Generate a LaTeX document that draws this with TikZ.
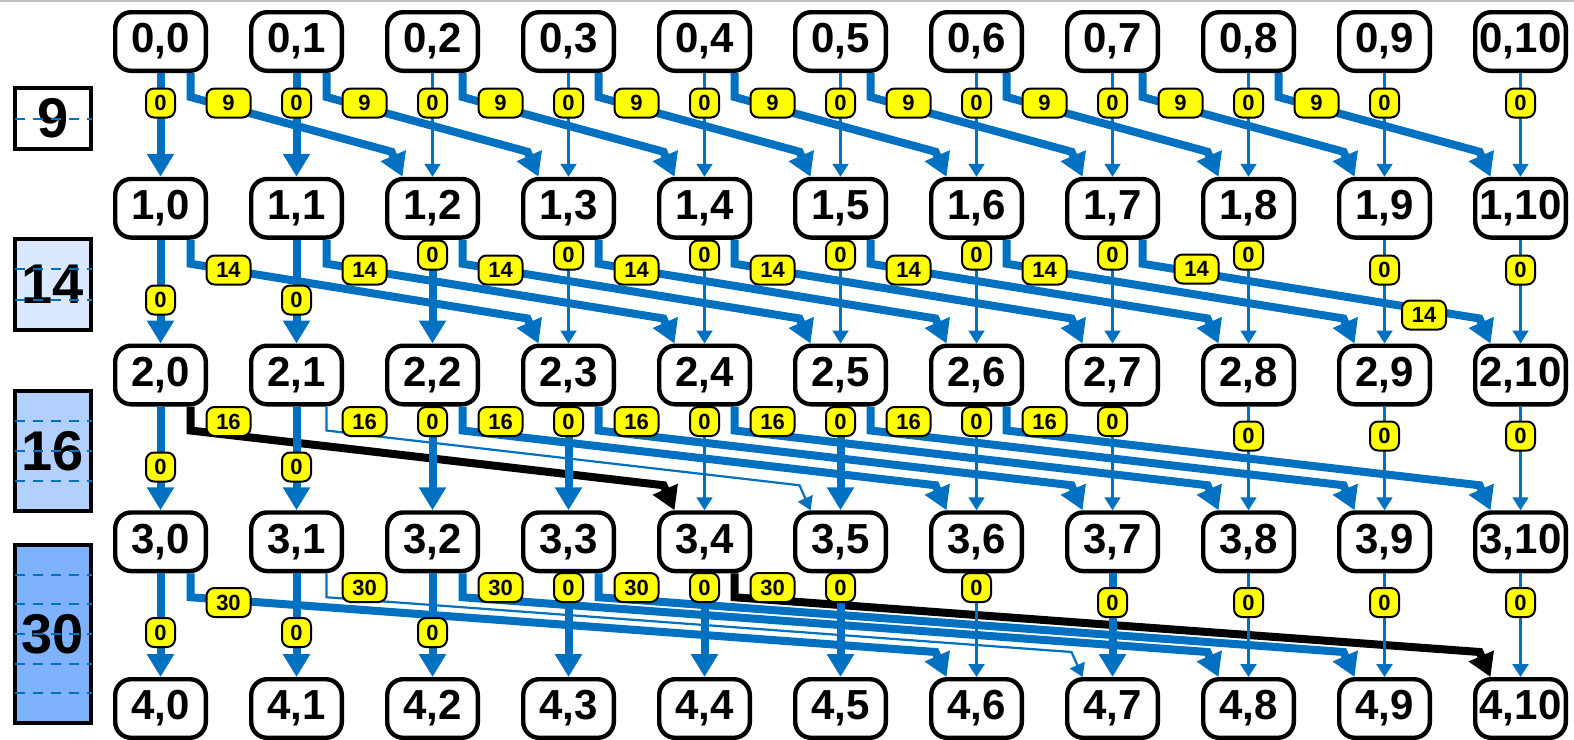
\documentclass[tikz,border=0pt]{standalone}
\usepackage{fontspec}
\setmainfont{Liberation Sans}
\usetikzlibrary{arrows.meta,calc}
\definecolor{eblue}{RGB}{0,112,192}
\definecolor{labfill}{RGB}{255,255,0}
\definecolor{wbA}{RGB}{218,233,255}
\definecolor{wbB}{RGB}{178,208,255}
\definecolor{wbC}{RGB}{126,178,255}
\newcommand\dg[3]{\draw[#1] ([xshift=15pt]#2.south) -- ++(0,24) -- ([xshift=-20.5pt,yshift=12.5pt]#3.north) -- ([xshift=-15pt]#3.north);}
\newcommand\vt[3]{\draw[#1] (#2.south) -- (#3.north);}
\begin{document}
\begin{tikzpicture}[x=0.5pt,y=-0.5pt,
  cell/.style={draw, line width=2.2pt, rounded corners=8pt, fill=white, minimum width=45.3pt, minimum height=29.3pt, inner sep=0pt, font=\fontsize{21}{21}\selectfont\bfseries},
  wbox/.style={draw, line width=2pt, minimum width=38pt, inner sep=0pt, font=\fontsize{28}{28}\selectfont\bfseries},
  wdash/.style={draw=eblue, line width=1pt, dash pattern=on 5pt off 4pt},
  thk/.style={draw=eblue, line width=4pt, -{Triangle[length=11.5pt,width=13pt]}},
  thn/.style={draw=eblue, line width=1.1pt, -{Triangle[length=6.5pt,width=8pt]}},
  blk/.style={draw=black, line width=4pt, -{Triangle[length=11.5pt,width=13pt]}},
  vlab/.style={draw, fill=labfill, line width=1pt, rounded corners=4pt, minimum width=22pt, minimum height=14.5pt, inner sep=0pt, font=\fontsize{11}{11}\selectfont\bfseries},
  zlab/.style={vlab, minimum width=14.5pt}
]
\useasboundingbox (0,0) rectangle (1574,739);
\fill[white] (0,0) rectangle (1574,739);
\draw[black!25, line width=1pt] (0,1) -- (1574,1);

% left weight boxes
\node[wbox, fill=white, minimum height=30.5pt] (w9) at (53,118.5) {9};
\node[wbox, fill=wbA, minimum height=45.5pt] (w14) at (53,284.5) {14};
\node[wbox, fill=wbB, minimum height=60pt] (w16) at (53,451) {16};
\node[wbox, fill=wbC, minimum height=89pt] (w30) at (53,634) {30};
\foreach \y in {118.5, 269.3, 299.7, 421, 451, 481, 574.7, 604.3, 634, 663.7, 693.3}
  \draw[wdash] (15,\y) -- (92,\y);

% grid nodes
\foreach \r in {0,...,4}
  \foreach \c in {0,...,10}
    \node[cell] (n\r-\c) at ({160.5+136*\c},{41.5+166.75*\r}) {\r,\c};

% diagonal edges
\foreach \j in {0,...,8}{\pgfmathtruncatemacro\k{\j+2}\dg{thk}{n0-\j}{n1-\k}}
\foreach \j in {0,...,7}{\pgfmathtruncatemacro\k{\j+3}\dg{thk}{n1-\j}{n2-\k}}
\dg{blk}{n2-0}{n3-4}
\dg{thn}{n2-1}{n3-5}
\foreach \j in {2,...,6}{\pgfmathtruncatemacro\k{\j+4}\dg{thk}{n2-\j}{n3-\k}}
\dg{thk}{n3-0}{n4-6}
\dg{thn}{n3-1}{n4-7}
\dg{thk}{n3-2}{n4-8}
\dg{thk}{n3-3}{n4-9}
\dg{blk}{n3-4}{n4-10}

% vertical edges
\foreach \c in {0,1}{\vt{thk}{n0-\c}{n1-\c}}
\foreach \c in {2,...,10}{\vt{thn}{n0-\c}{n1-\c}}
\foreach \c in {0,1,2}{\vt{thk}{n1-\c}{n2-\c}}
\foreach \c in {3,...,10}{\vt{thn}{n1-\c}{n2-\c}}
\foreach \c in {0,1,2,3,5}{\vt{thk}{n2-\c}{n3-\c}}
\foreach \c in {4,6,7,8,9,10}{\vt{thn}{n2-\c}{n3-\c}}
\foreach \c in {0,1,2,3,4,5,7}{\vt{thk}{n3-\c}{n4-\c}}
\foreach \c in {6,8,9,10}{\vt{thn}{n3-\c}{n4-\c}}

% labels row 0 -> 1
\foreach \c in {0,...,10}{\node[zlab] (za\c) at ({160.5+136*\c},103) {0};}
\foreach \c in {0,...,8}{\node[vlab] (va\c) at ({228.5+136*\c},103) {9};}
% labels row 1 -> 2
\foreach \c/\y in {0/300,1/300,2/255,3/255,4/255,5/255,6/255,7/255,8/255,9/270,10/270}{\node[zlab] (zb\c) at ({160.5+136*\c},\y) {0};}
\foreach \c in {0,...,6}{\node[vlab] (vb\c) at ({228.5+136*\c},270) {14};}
\node[vlab] (vb7) at (1196.5,269) {14};
\node[vlab] (vb7x) at (1424,315) {14};
% labels row 2 -> 3
\foreach \c/\y in {0/467,1/467,2/421.5,3/421.5,4/421.5,5/421.5,6/421.5,7/421.5,8/436,9/436,10/436}{\node[zlab] (zc\c) at ({160.5+136*\c},\y) {0};}
\foreach \c in {0,...,6}{\node[vlab] (vc\c) at ({228.5+136*\c},421.5) {16};}
% labels row 3 -> 4
\foreach \c/\y in {0/632.5,1/632.5,2/632.5,3/587.5,4/587.5,5/587.5,6/587.5,7/602.5,8/602.5,9/602.5,10/602.5}{\node[zlab] (zd\c) at ({160.5+136*\c},\y) {0};}
\foreach \c/\y in {0/602.5,1/587.5,2/587.5,3/587.5,4/587.5}{\node[vlab] (vd\c) at ({228.5+136*\c},\y) {30};}
\end{tikzpicture}
\end{document}
